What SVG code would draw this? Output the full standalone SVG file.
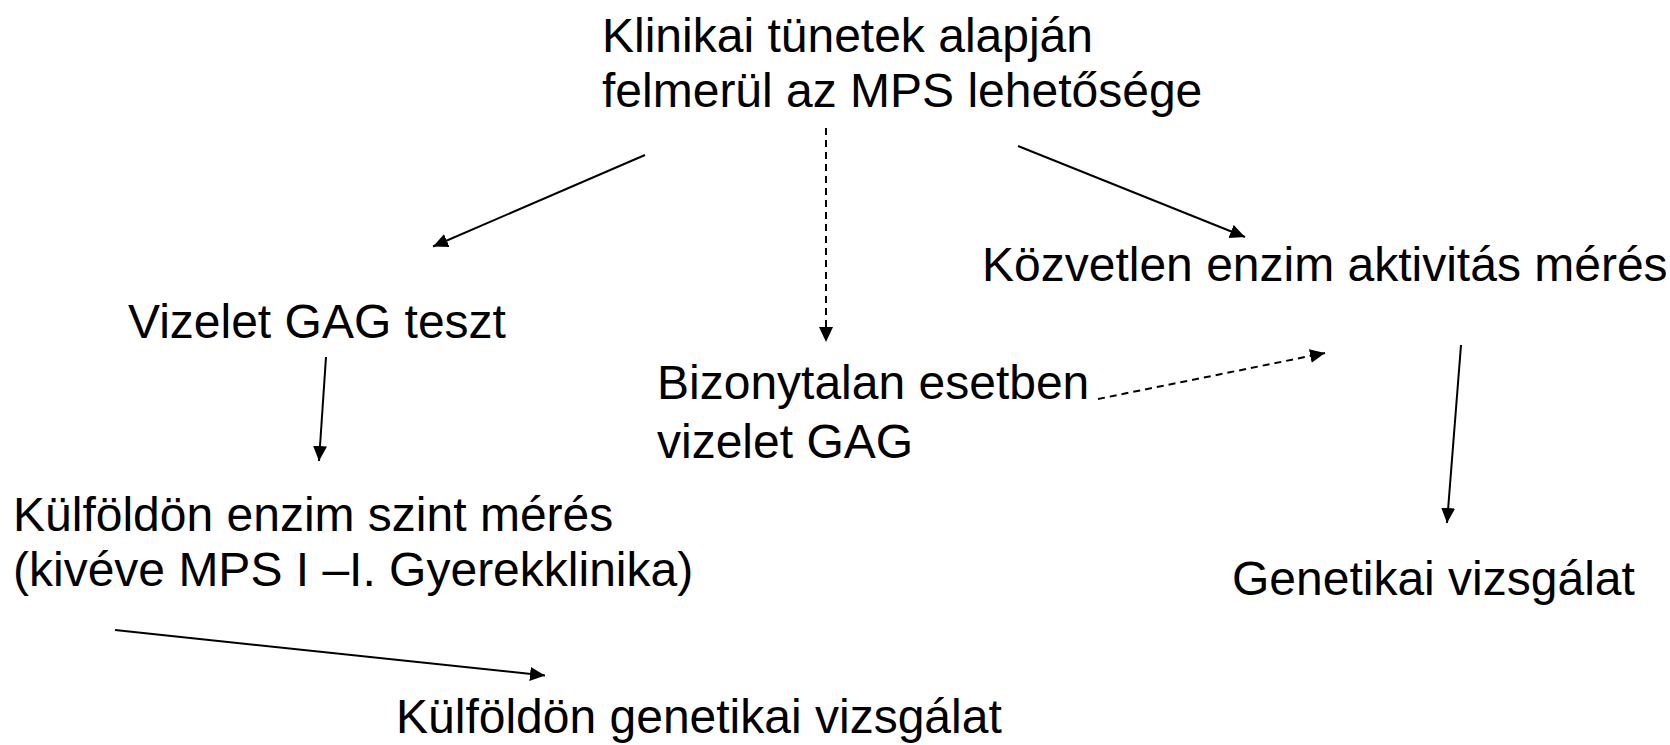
<svg xmlns="http://www.w3.org/2000/svg" width="1670" height="745" viewBox="0 0 1670 745">
<style>
text{font-family:"Liberation Sans",Arial,sans-serif;font-size:48px;fill:#000}
.c{stroke:#000;stroke-width:2;fill:none;marker-end:url(#ah)}
.d{stroke-dasharray:7,5}
</style>
<defs>
<marker id="ah" markerUnits="userSpaceOnUse" markerWidth="16" markerHeight="15" refX="15" refY="7" orient="auto" viewBox="0 0 16 15">
<path d="M0,0 L15,7 L0,14 z" fill="#000"/>
</marker>
</defs>
<rect width="1670" height="745" fill="#fff"/>
<g id="n-klinikai"><text x="602" y="52">Klinikai tünetek alapján</text><text x="602" y="107">felmerül az MPS lehetősége</text></g>
<g id="n-vizelet"><text x="128" y="338">Vizelet GAG teszt</text></g>
<g id="n-kozvetlen"><text x="982" y="281">Közvetlen enzim aktivitás mérés</text></g>
<g id="n-bizonytalan"><text x="657" y="399">Bizonytalan esetben</text><text x="657" y="458">vizelet GAG</text></g>
<g id="n-kulfoldon-enzim"><text x="13" y="531">Külföldön enzim szint mérés</text><text x="13" y="586">(kivéve MPS I –I. Gyerekklinika)</text></g>
<g id="n-genetikai"><text x="1232" y="595">Genetikai vizsgálat</text></g>
<g id="n-kulfoldon-gen"><text x="396" y="733">Külföldön genetikai vizsgálat</text></g>
<g id="connectors">
<line class="c" x1="645" y1="155" x2="433" y2="246.5"/>
<line class="c d" x1="826" y1="128" x2="826" y2="342"/>
<line class="c" x1="1018" y1="146" x2="1245" y2="237"/>
<line class="c" x1="326" y1="357" x2="319" y2="461"/>
<line class="c d" x1="1098" y1="399" x2="1325" y2="353"/>
<line class="c" x1="1461" y1="345" x2="1447" y2="523"/>
<line class="c" x1="115" y1="630" x2="545" y2="675.5"/>
</g>
</svg>
